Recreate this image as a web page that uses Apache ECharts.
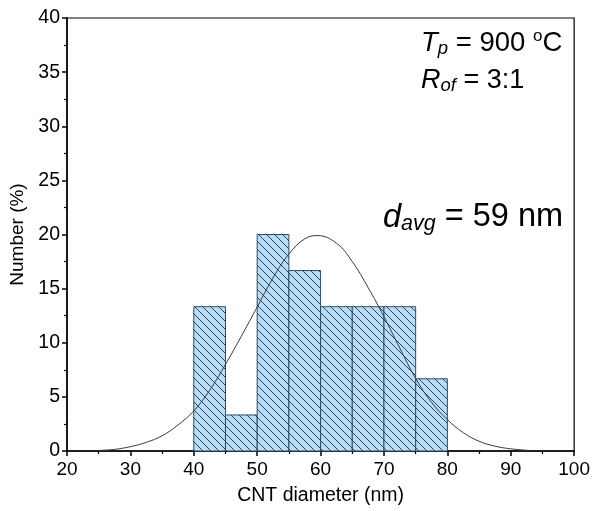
<!DOCTYPE html>
<html>
<head>
<meta charset="utf-8">
<script src="https://cdn.jsdelivr.net/npm/echarts@6/dist/echarts.min.js"></script>
<style>
html,body{margin:0;padding:0;background:#fff;}
#c{width:593px;height:511px;}
</style>
</head>
<body>
<div id="c"></div>
<script>
// Histogram bins (nm) and percentages
const binStarts = [40, 45, 50, 55, 60, 65, 70, 75];
const binEnds   = [45, 50, 55, 60, 65, 70, 75, 80];
const binValues = [13.33, 3.33, 20.0, 16.67, 13.33, 13.33, 13.33, 6.67];

// Fitted distribution curve
const curveX = [25, 27.5, 30, 32.5, 35, 37.5, 40, 42.5, 45, 47.5, 50, 52.5, 55, 57.5, 59.5, 62.5, 65, 67.5, 70, 72.5, 75, 77.5, 80, 82.5, 85, 87.5, 90, 93];
const curveY = [0.05, 0.15, 0.4, 0.8, 1.4, 2.4, 3.7, 5.6, 8.0, 10.6, 13.3, 16.0, 18.2, 19.6, 19.9, 19.2, 17.5, 15.1, 12.4, 9.5, 6.7, 4.5, 2.9, 1.7, 0.9, 0.45, 0.2, 0.05];

const xTicks = [20, 30, 40, 50, 60, 70, 80, 90, 100];
const yTicks = [0, 5, 10, 15, 20, 25, 30, 35, 40];

// hatch pattern
const tile = document.createElement('canvas');
tile.width = 8; tile.height = 8;
const g = tile.getContext('2d');
g.fillStyle = '#b9ddf6';
g.fillRect(0, 0, 8, 8);
g.strokeStyle = '#274766';
g.lineWidth = 1;
g.beginPath();
g.moveTo(-1, -1); g.lineTo(9, 9);
g.moveTo(-1, 7); g.lineTo(1, 9);
g.moveTo(7, -1); g.lineTo(9, 1);
g.stroke();

const barData = binStarts.map((s, i) => [s, binEnds[i], binValues[i]]);
const curveData = curveX.map((x, i) => [x, curveY[i]]);

const FONT = '"Liberation Sans", Arial, sans-serif';
const chart = echarts.init(document.getElementById('c'));
chart.setOption({
  animation: false,
  backgroundColor: '#fff',
  grid: { left: 67, right: 18, top: 18, bottom: 59, show: true, borderColor: '#000', borderWidth: 1.2, backgroundColor: 'transparent' },
  xAxis: {
    type: 'value', min: xTicks[0], max: xTicks[xTicks.length - 1], interval: 10,
    name: 'CNT diameter (nm)', nameLocation: 'middle', nameGap: 35,
    nameTextStyle: { fontFamily: FONT, fontSize: 19.5, color: '#000' },
    axisLine: { lineStyle: { color: '#000', width: 1.5 } },
    axisTick: { show: true, inside: false, length: 5, lineStyle: { color: '#000', width: 1.5 } },
    minorTick: { show: true, splitNumber: 2, length: 3, lineStyle: { color: '#000', width: 1.2 } },
    axisLabel: { fontFamily: FONT, fontSize: 19, color: '#000', margin: 9, showMaxLabel: true, showMinLabel: true },
    splitLine: { show: false }
  },
  yAxis: {
    type: 'value', min: yTicks[0], max: yTicks[yTicks.length - 1], interval: 5,
    name: 'Number (%)', nameLocation: 'middle', nameGap: 36,
    nameTextStyle: { fontFamily: FONT, fontSize: 19, color: '#000' },
    axisLine: { show: true, lineStyle: { color: '#000', width: 1.5 } },
    axisTick: { show: true, inside: false, length: 5, lineStyle: { color: '#000', width: 1.5 } },
    minorTick: { show: true, splitNumber: 2, length: 3, lineStyle: { color: '#000', width: 1.2 } },
    axisLabel: { fontFamily: FONT, fontSize: 19.5, color: '#000', margin: 7 },
    splitLine: { show: false }
  },
  series: [
    {
      type: 'custom',
      data: barData,
      encode: { x: [0, 1], y: 2 },
      renderItem: function (params, api) {
        const x0 = api.value(0), x1 = api.value(1), v = api.value(2);
        const p0 = api.coord([x0, 0]);
        const p1 = api.coord([x1, v]);
        return {
          type: 'rect',
          shape: { x: p0[0], y: p1[1], width: p1[0] - p0[0], height: p0[1] - p1[1] },
          style: { fill: { image: tile, repeat: 'repeat' }, stroke: '#2d4b66', lineWidth: 1 }
        };
      },
      z: 2
    },
    {
      type: 'line',
      data: curveData,
      smooth: 0.4,
      showSymbol: false,
      lineStyle: { color: '#3a3a3a', width: 1 },
      z: 3
    }
  ],
  graphic: [
    {
      type: 'text', left: 421, top: 28,
      style: {
        text: '{i|T}{s|p}{n| = 900 }{u|o}{n|C}',
        rich: {
          i: { fontFamily: FONT, fontSize: 27.5, fontStyle: 'italic', lineHeight: 30, fill: '#000', verticalAlign: 'middle' },
          s: { fontFamily: FONT, fontSize: 18.5, fontStyle: 'italic', lineHeight: 10, fill: '#000', verticalAlign: 'bottom' },
          n: { fontFamily: FONT, fontSize: 27.5, lineHeight: 30, fill: '#000', verticalAlign: 'middle' },
          u: { fontFamily: FONT, fontSize: 17, lineHeight: 12, fill: '#000', verticalAlign: 'top' }
        }
      }
    },
    {
      type: 'text', left: 421, top: 67,
      style: {
        text: '{i|R}{s|of}{n| = 3:1}',
        rich: {
          i: { fontFamily: FONT, fontSize: 27, fontStyle: 'italic', lineHeight: 30, fill: '#000', verticalAlign: 'middle' },
          s: { fontFamily: FONT, fontSize: 18.5, fontStyle: 'italic', lineHeight: 10, fill: '#000', verticalAlign: 'bottom' },
          n: { fontFamily: FONT, fontSize: 27, lineHeight: 30, fill: '#000', verticalAlign: 'middle' }
        }
      }
    },
    {
      type: 'text', left: 383, top: 201,
      style: {
        text: '{i|d}{s|avg}{n| = 59 nm}',
        rich: {
          i: { fontFamily: FONT, fontSize: 32.5, fontStyle: 'italic', lineHeight: 36, fill: '#000', verticalAlign: 'middle' },
          s: { fontFamily: FONT, fontSize: 21.5, fontStyle: 'italic', lineHeight: 12, fill: '#000', verticalAlign: 'bottom' },
          n: { fontFamily: FONT, fontSize: 32.5, lineHeight: 36, fill: '#000', verticalAlign: 'middle' }
        }
      }
    }
  ]
});
</script>
</body>
</html>
